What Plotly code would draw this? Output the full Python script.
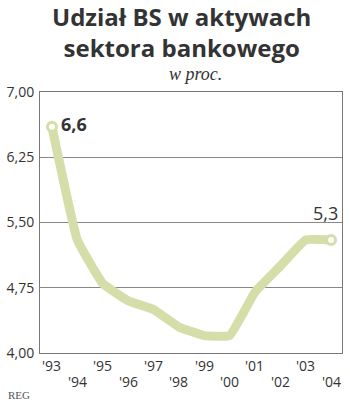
import plotly.graph_objects as go

years = [1993, 1994, 1995, 1996, 1997, 1998, 1999, 2000, 2001, 2002, 2003, 2004]
values = [6.6, 5.3, 4.8, 4.6, 4.5, 4.3, 4.2, 4.2, 4.7, 5.0, 5.3, 5.3]
year_labels = ["'93", "'94", "'95", "'96", "'97", "'98", "'99", "'00", "'01", "'02", "'03", "'04"]
y_ticks = [4.0, 4.75, 5.5, 6.25, 7.0]
y_tick_labels = ["4,00", "4,75", "5,50", "6,25", "7,00"]

GREEN = "#d5dea9"
TEXT = "#333333"
FONT = "Open Sans"

fig = go.Figure()
fig.add_trace(go.Scatter(
    x=years, y=values, mode="lines",
    line=dict(color=GREEN, width=9, shape="spline", smoothing=0.3),
    hoverinfo="skip", showlegend=False,
))
fig.add_trace(go.Scatter(
    x=[years[0], years[-1]], y=[values[0], values[-1]], mode="markers",
    marker=dict(size=9, color="white", line=dict(color=GREEN, width=3)),
    hoverinfo="skip", showlegend=False,
))

annotations = []
for i, (yr, lab) in enumerate(zip(years, year_labels)):
    annotations.append(dict(
        x=yr, y=0, xref="x", yref="paper", text=lab, showarrow=False,
        xanchor="center", yanchor="top", yshift=-1 if i % 2 == 0 else -17,
        font=dict(family=FONT, size=14, color=TEXT),
    ))

annotations += [
    dict(x=years[0], y=values[0], xref="x", yref="y",
         text="<b>" + f"{values[0]:.1f}".replace(".", ",") + "</b>",
         showarrow=False, xanchor="left", yanchor="middle", xshift=7, yshift=3,
         font=dict(family=FONT, size=18, color=TEXT)),
    dict(x=years[-1], y=values[-1], xref="x", yref="y",
         text=f"{values[-1]:.1f}".replace(".", ","),
         showarrow=False, xanchor="right", yanchor="bottom", xshift=9, yshift=13,
         font=dict(family=FONT, size=18, color=TEXT)),
    dict(text="<b>Udział BS w aktywach<br>sektora bankowego</b>", xref="paper", yref="paper",
         x=0.5, y=1, yanchor="bottom", xanchor="center", yshift=26, xshift=-10, showarrow=False,
         font=dict(family=FONT, size=24, color=TEXT), align="center"),
    dict(text="<i>w proc.</i>", xref="paper", yref="paper",
         x=0.5, y=1, yanchor="bottom", xanchor="center", yshift=6, xshift=4, showarrow=False,
         font=dict(family="Liberation Serif", size=18, color=TEXT)),
    dict(text="REG", xref="paper", yref="paper", x=0, y=0, xanchor="left", yanchor="top",
         xshift=-34, yshift=-34, showarrow=False,
         font=dict(family="Liberation Serif", size=11, color="#555555")),
]

fig.update_layout(
    width=350, height=404,
    margin=dict(l=38, r=7, t=92, b=51),
    paper_bgcolor="white", plot_bgcolor="white",
    separators=",.",
    annotations=annotations,
    xaxis=dict(range=[1992.53, 2004.43], showticklabels=False, showgrid=False,
               zeroline=False, showline=True, linecolor="#777777", linewidth=1, mirror=True,
               ticks=""),
    yaxis=dict(range=[4, 7], tickvals=y_ticks, ticktext=y_tick_labels, showgrid=True,
               gridcolor="#888888", gridwidth=1, zeroline=False, showline=True,
               linecolor="#777777", linewidth=1, mirror=True, ticks="", ticklabelstandoff=2,
               tickfont=dict(family=FONT, size=14, color=TEXT)),
)

fig.write_html("out.html")
